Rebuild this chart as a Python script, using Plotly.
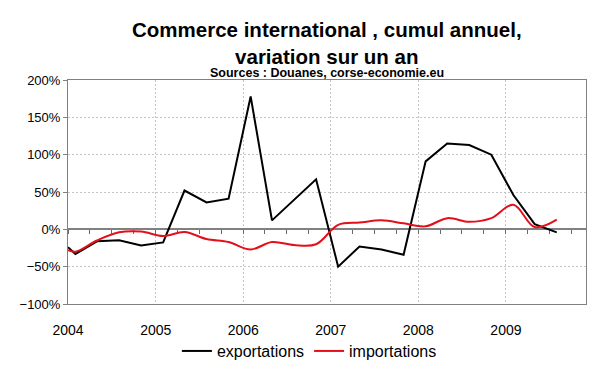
import plotly.graph_objects as go

# ---- data ----
dates = ["2004-01-01", "2004-02-01", "2004-05-01", "2004-08-01", "2004-11-01",
         "2005-02-01", "2005-05-01", "2005-08-01", "2005-11-01",
         "2006-02-01", "2006-05-01", "2006-08-01", "2006-11-01",
         "2007-02-01", "2007-05-01", "2007-08-01", "2007-11-01",
         "2008-02-01", "2008-05-01", "2008-08-01", "2008-11-01",
         "2009-02-01", "2009-05-01", "2009-08-01"]
exportations = [-24, -33, -16, -14.5, -21.5,
                -17.5, 52, 36, 41,
                178, 12, 40, 67,
                -50, -23, -27, -34,
                91, 115, 113, 100,
                46, 7, -4]
importations = [-28, -30, -15, -4, -3,
                -9, -3.5, -13, -17,
                -27, -17, -21, -20,
                6, 9, 12, 8,
                4, 15, 10, 15,
                33, 3, 13]
year_ticks = ["2004-01-01", "2005-01-01", "2006-01-01", "2007-01-01", "2008-01-01", "2009-01-01"]
year_labels = ["2004", "2005", "2006", "2007", "2008", "2009"]

FONT = "Liberation Sans, Arial, sans-serif"
X_RANGE = ["2004-01-01", "2009-12-01"]
GRID = "#c4c4c4"
AXIS = "#808080"

fig = go.Figure()
fig.add_trace(go.Scatter(x=dates, y=exportations, name="exportations", mode="lines",
                         line=dict(color="#000000", width=2), xaxis="x", yaxis="y"))
fig.add_trace(go.Scatter(x=dates, y=importations, name="importations", mode="lines",
                         line=dict(color="#e3101b", width=2, shape="spline", smoothing=1),
                         xaxis="x2", yaxis="y"))

fig.update_layout(
    width=600, height=372,
    margin=dict(l=54, r=22, t=72, b=64),
    paper_bgcolor="white", plot_bgcolor="white",
    font=dict(family=FONT, color="black"),
    showlegend=True,
    legend=dict(orientation="h", x=0.466, xanchor="center", y=-0.21, yanchor="middle",
                font=dict(size=16, family=FONT, color="black"),
                itemwidth=30, tracegroupgap=0, bgcolor="rgba(0,0,0,0)"),
    xaxis=dict(type="date", range=X_RANGE, tickmode="array", tickvals=year_ticks,
               ticktext=year_labels, ticks="", tickfont=dict(size=14, family=FONT, color="black"),
               showgrid=True, gridcolor=GRID, griddash="2px,2px", gridwidth=1,
               showline=True, linecolor=AXIS, linewidth=1, mirror=True, zeroline=False,
               ticklabelstandoff=13),
    xaxis2=dict(type="date", range=X_RANGE, overlaying="x", anchor="free", position=1/3,
                side="bottom", tickmode="linear", tick0="2004-01-01", dtick="M3",
                ticks="outside", ticklen=4, tickcolor="#6a6a6a", tickwidth=1.2,
                showticklabels=False, showgrid=False, showline=False,
                zeroline=False, layer="below traces"),
    yaxis=dict(range=[-100, 200], tickmode="linear", tick0=-100, dtick=50, ticksuffix="%",
               tickfont=dict(size=13, family=FONT, color="black"),
               ticks="outside", ticklen=4, tickcolor=AXIS,
               showgrid=True, gridcolor=GRID, griddash="2px,2px", gridwidth=1,
               showline=True, linecolor=AXIS, linewidth=1, mirror=True,
               zeroline=True, zerolinecolor=AXIS, zerolinewidth=1.5),
    annotations=[
        dict(text="<b>Commerce international , cumul annuel,<br>variation sur un an</b>",
             xref="paper", yref="paper", x=0.5, y=1 + (72 - 32.5) / 236,
             xanchor="center", yanchor="middle", showarrow=False,
             font=dict(size=20.5, family=FONT, color="black")),
        dict(text="<b>Sources : Douanes, corse-economie.eu</b>",
             xref="paper", yref="paper", x=0.5, y=1 + (72 - 65) / 236,
             xanchor="center", yanchor="middle", showarrow=False,
             font=dict(size=12.5, family=FONT, color="black")),
    ],
)

fig.write_html("out.html")
